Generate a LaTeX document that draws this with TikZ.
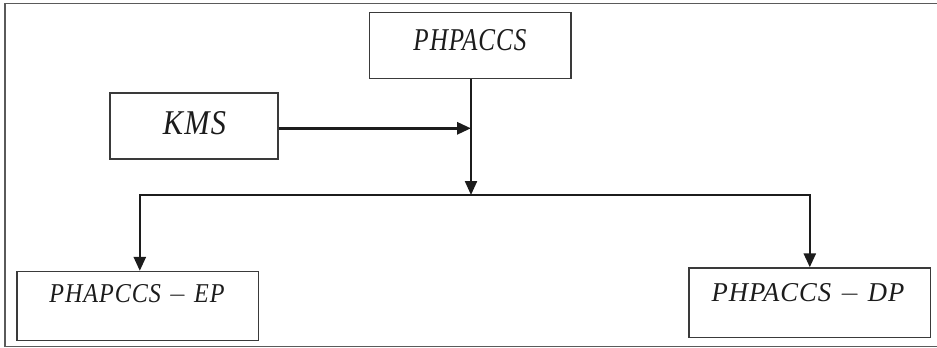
\documentclass[tikz,border=0pt]{standalone}
\usepackage{graphicx}
\usepackage{fontspec}
\usetikzlibrary{arrows.meta}

\newfontfamily\labelfont{Liberation Serif}[LetterSpace=4]

\definecolor{ink}{HTML}{1C1C1C}
\definecolor{edge}{HTML}{3A3A3A}
\definecolor{framegray}{HTML}{5A5A5A}

\tikzset{
  blockbox/.style={draw=edge, line width=1.3pt, fill=white, inner sep=0pt},
  blocktext/.style={inner sep=0pt, anchor=south, text=ink},
  link/.style={draw=ink, line width=2.2pt},
  head/.style={-{Triangle[length=14pt,width=12pt]}},
  twoheads/.style={{Triangle[length=14pt,width=12pt]}-{Triangle[length=14pt,width=12pt]}}
}

% label helper: width, cap height, text
\newcommand{\fitlabel}[3]{\resizebox{#1pt}{#2pt}{\labelfont\itshape #3}}
% wide minus between two terms
\newcommand{\wideminus}{\hspace{0.3em}$-$\hspace{0.3em}}

\begin{document}
\begin{tikzpicture}[x=1pt, y=-1pt]
  \useasboundingbox (0,0) rectangle (937,348);
  \draw[framegray, line width=1.6pt] (5,3.3) rectangle (940,346.5);

  % boxes
  \node[blockbox, minimum width=201.7pt, minimum height=66pt] (top) at (470,45.7) {};
  \node[blockbox, minimum width=168pt, minimum height=66pt] (kms) at (194,126) {};
  \node[blockbox, minimum width=241.7pt, minimum height=69pt] (ep) at (137.8,306) {};
  \node[blockbox, minimum width=241.7pt, minimum height=69.7pt] (dp) at (809.8,302.8) {};

  % labels
  \node[blocktext] (toptxt) at (470,51) {\fitlabel{113}{21}{PHPACCS}};
  \node[blocktext] (kmstxt) at (194.5,135) {\fitlabel{63}{23}{KMS}};
  \node[blocktext] (eptxt) at (137,304.5) {\fitlabel{175}{18}{PHAPCCS\wideminus EP}};
  \node[blocktext] (dptxt) at (808,304) {\fitlabel{193}{18}{PHPACCS\wideminus DP}};

  % junction points
  \coordinate (merge) at (471,128.3);
  \coordinate (bus) at (471,195);

  % connectors
  \draw[link, head] (top.south -| bus) -- (bus);
  \draw[link, line width=3pt, head] (kms.east |- merge) -- (merge);
  \draw[link, line width=2.6pt, twoheads, line join=miter]
    ([xshift=2pt]ep.north) |- (bus) -| (dp.north);
\end{tikzpicture}
\end{document}
